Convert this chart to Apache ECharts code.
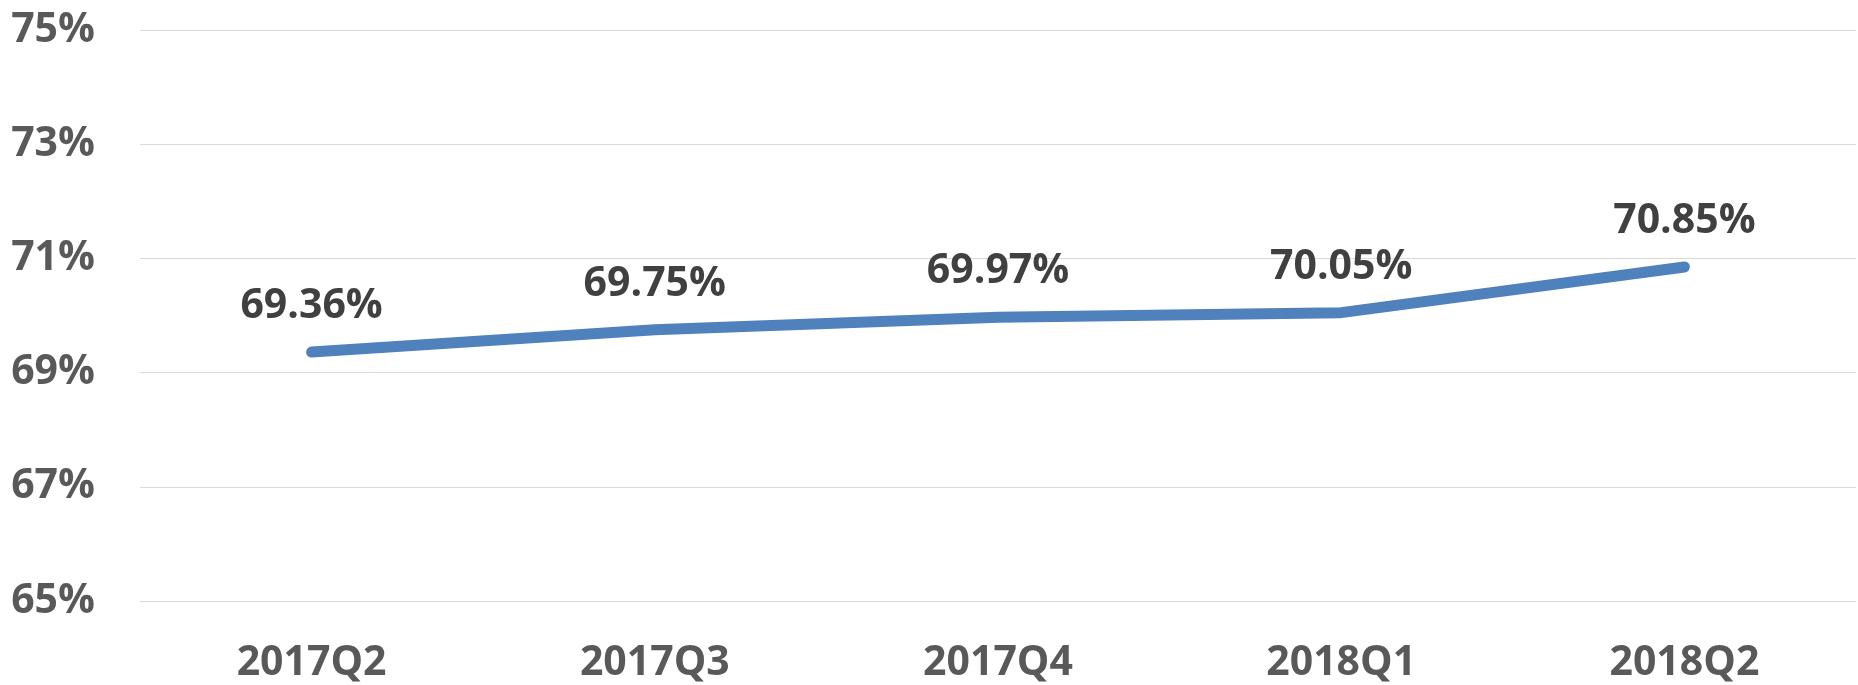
<!DOCTYPE html>
<html>
<head>
<meta charset="utf-8">
<style>
  html, body { margin: 0; padding: 0; background: #fff; }
  #chart { width: 1858px; height: 685px; }
</style>
<script src="https://cdn.jsdelivr.net/npm/echarts@6/dist/echarts.min.js"></script>
</head>
<body>
<div id="chart"></div>
<script>
"use strict";

const quarters = ["2017Q2", "2017Q3", "2017Q4", "2018Q1", "2018Q2"];
const rates    = [69.36, 69.75, 69.97, 70.05, 70.85];
const yTicks   = [65, 67, 69, 71, 73, 75];

const FONT = "'Open Sans', 'Liberation Sans', sans-serif";

const chart = echarts.init(document.getElementById("chart"));
chart.setOption({
  backgroundColor: "#fff",
  animation: false,
  grid: { left: 140, right: 2, top: 30, bottom: 84 },
  xAxis: {
    type: "category",
    data: quarters,
    boundaryGap: true,
    axisLine: { show: true, lineStyle: { color: "#D9D9D9", width: 1 } },
    axisTick: { show: false },
    axisLabel: {
      margin: 42, color: "#595959", fontSize: 41, fontWeight: "bold", fontFamily: FONT
    }
  },
  yAxis: {
    type: "value",
    min: yTicks[0],
    max: yTicks[yTicks.length - 1],
    interval: 2,
    axisLine: { show: false },
    axisTick: { show: false },
    splitLine: { lineStyle: { color: "#D9D9D9", width: 1 } },
    axisLabel: {
      margin: 45, color: "#595959", fontSize: 41, fontWeight: "bold", fontFamily: FONT,
      formatter: v => v + "%"
    }
  },
  series: [{
    type: "line",
    data: rates,
    symbol: "circle",
    showSymbol: true,
    symbolSize: 2,
    itemStyle: { color: "rgba(0,0,0,0)" },
    lineStyle: { color: "#4F81BD", width: 11, cap: "round", join: "round" },
    label: {
      show: true,
      position: "top",
      distance: 24,
      color: "#404040",
      fontSize: 41,
      fontWeight: "bold",
      fontFamily: FONT,
      formatter: p => p.value.toFixed(2) + "%"
    }
  }]
});
</script>
</body>
</html>
